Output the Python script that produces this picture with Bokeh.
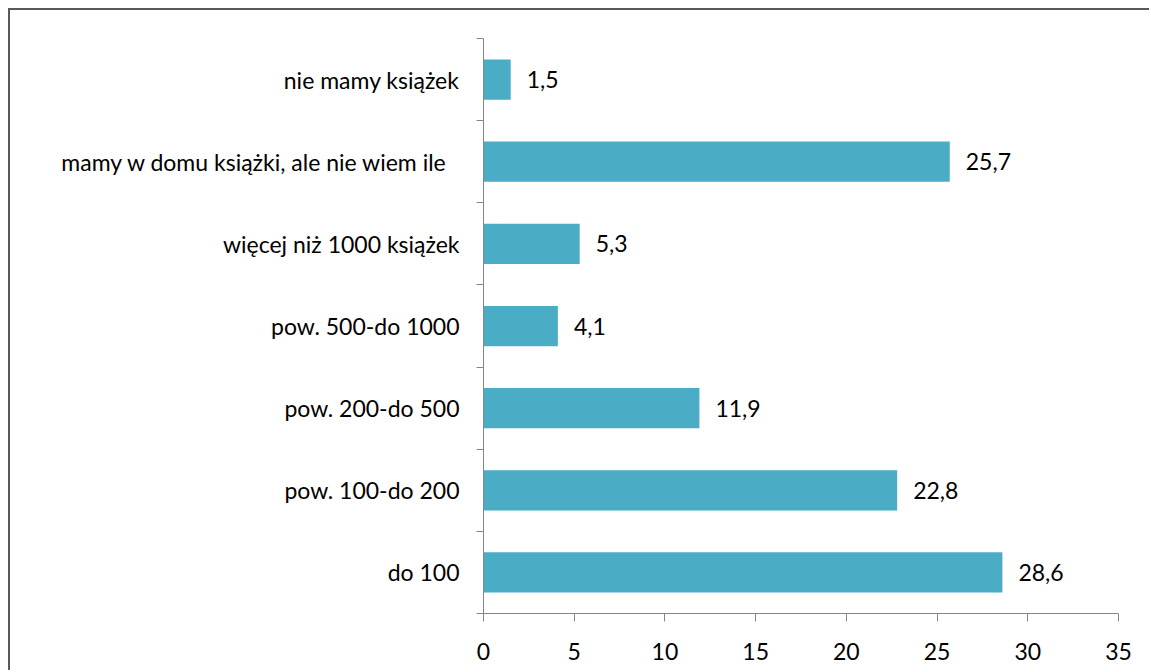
from bokeh.plotting import figure
from bokeh.models import FixedTicker, ColumnDataSource, Range1d
from bokeh.core.properties import value
from bokeh.embed import file_html
from bokeh.resources import INLINE

categories = ["do 100", "pow. 100-do 200", "pow. 200-do 500", "pow. 500-do 1000",
              "więcej niż 1000 książek", "mamy w domu książki,  ale nie wiem  ile",
              "nie mamy książek"]
values = [28.6, 22.8, 11.9, 4.1, 5.3, 25.7, 1.5]
x_ticks = [0, 5, 10, 15, 20, 25, 30, 35]

FONT = "Lato"
FS = "23px"
BAR = "#4BACC6"
AXIS = "#868686"

pos = [i + 0.5 for i in range(len(categories))]
labels = [f"{v:.1f}".replace(".", ",") for v in values]
src = ColumnDataSource(dict(y=pos, v=values, lab=labels))

p = figure(width=1141, height=662, output_backend="svg", toolbar_location=None,
           x_range=Range1d(0, 35), y_range=Range1d(0, len(categories)),
           min_border_left=473, min_border_right=33, min_border_top=28, min_border_bottom=59)
p.styles = {"margin-left": "8px", "margin-top": "8px",
            "border-top": "2px solid #595959", "border-left": "2px solid #595959"}

p.hbar(y="y", right="v", left=0, height=0.49, source=src, color=BAR, line_color=None)
p.text(x="v", y="y", text="lab", source=src, x_offset=16, text_align="left",
       text_baseline="middle", text_font=value(FONT), text_font_size=FS, text_color="#000000")

p.grid.visible = False
p.outline_line_color = None
p.background_fill_color = "white"
p.border_fill_color = "white"

xa = p.xaxis[0]
xa.ticker = FixedTicker(ticks=x_ticks)
xa.axis_line_color = AXIS
xa.major_tick_line_color = AXIS
xa.major_tick_in = 0
xa.major_tick_out = 8
xa.minor_tick_line_color = None
xa.major_label_text_font = FONT
xa.major_label_text_font_size = FS
xa.major_label_text_color = "#000000"
xa.major_label_standoff = 21

ya = p.yaxis[0]
ya.ticker = FixedTicker(ticks=pos, minor_ticks=list(range(len(categories) + 1)))
ya.major_label_overrides = {pp: c for pp, c in zip(pos, categories)}
ya.axis_line_color = AXIS
ya.major_tick_line_color = None
ya.major_tick_in = 0
ya.major_tick_out = 0
ya.minor_tick_line_color = AXIS
ya.minor_tick_in = 0
ya.minor_tick_out = 7
ya.major_label_text_font = FONT
ya.major_label_text_font_size = FS
ya.major_label_text_color = "#000000"
ya.major_label_standoff = 17

open("out.html", "w").write(file_html(p, INLINE))
